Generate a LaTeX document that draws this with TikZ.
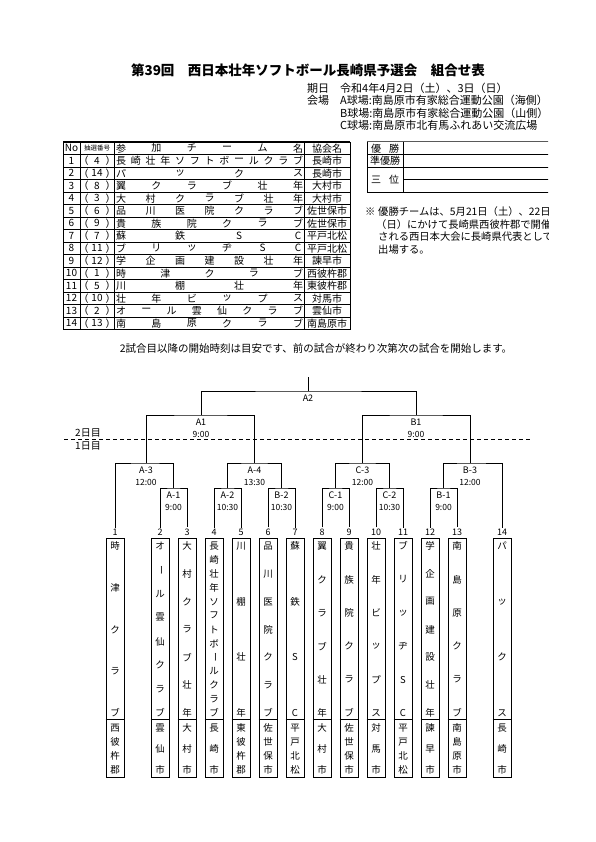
\documentclass[tikz,border=0pt]{standalone}
\usepackage{fontspec}
\setmainfont{Noto Sans CJK JP}
\usepackage{graphicx}
\usetikzlibrary{calc}

% long vowel mark turned for the upright team boxes
\newcommand{\tate}{\rotatebox[origin=c]{-90}{ー}}
% spread a list of characters evenly from one point to another
\newcommand{\spreadtext}[4]{%
  \foreach \ch [count=\k] in #4 {\xdef\nchars{\k}}
  \foreach \ch [count=\k] in #4 {
    \node (#1-\k) at ($#2!{(\k-1)/(\nchars-1)}!#3$) {\ch};
  }
}

\tikzset{
  teambox/.style={draw, line width=0.9pt, minimum width=18pt, minimum height=239pt},
  bracket/.style={line width=0.6pt},
  teamno/.style={inner sep=1pt, font=\fontsize{9}{10}\selectfont},
  matchname/.style={font=\fontsize{9}{10}\selectfont},
  matchtime/.style={font=\fontsize{8.5}{10}\selectfont},
  grid/.style={line width=0.5pt},
  infotext/.style={anchor=west, font=\fontsize{11}{13}\selectfont},
  notetext/.style={anchor=west, font=\fontsize{10.3}{12}\selectfont},
}

\begin{document}
\begin{tikzpicture}[x=1pt, y=-1pt, every node/.style={inner sep=0pt, font=\fontsize{10}{12}\selectfont}]
    \useasboundingbox (0,0) rectangle (595,842);

    % title
    \node[font=\fontsize{13.5}{15}\selectfont\bfseries] (title) at (308,70) {第39回　西日本壮年ソフトボール長崎県予選会　組合せ表};

    % date and grounds (cut off at the right)
    \begin{scope}
    \clip (0,0) rectangle (548,842);
    \node[infotext] (kijitsu) at (307,88) {期日};
    \node[infotext] (date) at (340,88) {令和4年4月2日（土）、3日（日）};
    \node[infotext] (kaijo) at (307,100.5) {会場};
    \node[infotext] (groundA) at (340,100.5) {A球場:南島原市有家総合運動公園（海側）};
    \node[infotext] (groundB) at (340,113) {B球場:南島原市有家総合運動公園（山側）};
    \node[infotext] (groundC) at (340,125.5) {C球場:南島原市北有馬ふれあい交流広場};

    % winners box
    \draw[line width=1pt, gray!70!black] (367,142) -- (560,142);
    \draw[line width=0.8pt] (367,154.5) -- (560,154.5);
    \draw[line width=0.8pt] (367,167) -- (560,167);
    \draw[line width=0.8pt] (403,179.5) -- (560,179.5);
    \draw[line width=0.8pt] (367,192) -- (560,192);
    \draw[line width=0.8pt] (367,142) -- (367,192);
    \draw[line width=0.8pt] (403,142) -- (403,192);
    \node (yu1) at (376,148.25) {優};
    \node (yu2) at (394,148.25) {勝};
    \node (jun) at (385,160.75) {準優勝};
    \node (san1) at (376,179.5) {三};
    \node (san2) at (394,179.5) {位};

    % note
    \node[notetext] (kome) at (365,212) {※};
    \node[notetext] (note1) at (378,212) {優勝チームは、5月21日（土）、22日（日）};
    \node[notetext] (note2) at (376,224.5) {（日）にかけて長崎県西彼杵郡で開催};
    \node[notetext] (note3) at (378,237) {される西日本大会に長崎県代表として};
    \node[notetext] (note4) at (378,249.5) {出場する。};
    \end{scope}

    % entry table
    \draw[grid] (63,142) rectangle (350,329.5);
    \foreach \k in {1,...,14} {
        \draw[grid] (63,{142+12.5*\k}) -- (350,{142+12.5*\k});
    }
    \foreach \cx in {80,114,304} {
        \draw[grid] (\cx,142) -- (\cx,329.5);
    }
    \draw[line width=1.4pt] (63,142) -- (350,142);
    \draw[line width=1.4pt] (63,329.5) -- (350,329.5);
    \node (hno) at (71.5,148.25) {No};
    \node[font=\fontsize{6.5}{8}\selectfont] (hlot) at (97,148.25) {抽選番号};
    \spreadtext{hd}{(121,148.25)}{(298,148.25)}{{参,加,チ,ー,ム,名}}
    \node (has) at (327,148.25) {協会名};
    \foreach \tno/\tlot/\tnm/\tas [count=\r] in {
        1/4/{長,崎,壮,年,ソ,フ,ト,ボ,ー,ル,ク,ラ,ブ}/長崎市,
        2/14/{パ,ッ,ク,ス}/長崎市,
        3/8/{翼,ク,ラ,ブ,壮,年}/大村市,
        4/3/{大,村,ク,ラ,ブ,壮,年}/大村市,
        5/6/{品,川,医,院,ク,ラ,ブ}/佐世保市,
        6/9/{貴,族,院,ク,ラ,ブ}/佐世保市,
        7/7/{蘇,鉄,S,C}/平戸北松,
        8/11/{ブ,リ,ッ,ヂ,S,C}/平戸北松,
        9/12/{学,企,画,建,設,壮,年}/諫早市,
        10/1/{時,津,ク,ラ,ブ}/西彼杵郡,
        11/5/{川,棚,壮,年}/東彼杵郡,
        12/10/{壮,年,ビ,ッ,プ,ス}/対馬市,
        13/2/{オ,ー,ル,雲,仙,ク,ラ,ブ}/雲仙市,
        14/13/{南,島,原,ク,ラ,ブ}/南島原市} {
        \pgfmathsetmacro\yy{148.25+12.5*\r}
        \node (no\r) at (71.5,\yy) {\tno};
        \node (lp\r) at (83.5,\yy) {（};
        \node (lot\r) at (97,\yy) {\tlot};
        \node (rp\r) at (110.5,\yy) {）};
        \spreadtext{row\r}{(121,\yy)}{(298,\yy)}{\tnm}
        \node (as\r) at (327,\yy) {\tas};
    }

    \node[font=\fontsize{10.5}{12}\selectfont] (notice) at (316,349) {2試合目以降の開始時刻は目安です、前の試合が終わり次第次の試合を開始します。};

    % team boxes
    \foreach \i/\x/\nm/\as in {
        1/115/{時,津,ク,ラ,ブ}/{西,彼,杵,郡},
        2/160/{オ,\tate,ル,雲,仙,ク,ラ,ブ}/{雲,仙,市},
        3/187/{大,村,ク,ラ,ブ,壮,年}/{大,村,市},
        4/214/{長,崎,壮,年,ソ,フ,ト,ボ,\tate,ル,ク,ラ,ブ}/{長,崎,市},
        5/241/{川,棚,壮,年}/{東,彼,杵,郡},
        6/268/{品,川,医,院,ク,ラ,ブ}/{佐,世,保,市},
        7/295/{蘇,鉄,S,C}/{平,戸,北,松},
        8/322/{翼,ク,ラ,ブ,壮,年}/{大,村,市},
        9/349/{貴,族,院,ク,ラ,ブ}/{佐,世,保,市},
        10/376/{壮,年,ビ,ッ,プ,ス}/{対,馬,市},
        11/403/{ブ,リ,ッ,ヂ,S,C}/{平,戸,北,松},
        12/430/{学,企,画,建,設,壮,年}/{諫,早,市},
        13/457/{南,島,原,ク,ラ,ブ}/{南,島,原,市},
        14/502/{パ,ッ,ク,ス}/{長,崎,市}} {
        \node[teambox] (t\i) at (\x,657.5) {};
        \draw[line width=0.8pt] ($(t\i.north west)+(0,182)$) -- ($(t\i.north east)+(0,182)$);
        \node[teamno] (n\i) at (\x,532) {\i};
        \begin{scope}[every node/.style={inner sep=0pt, font=\fontsize{9.5}{11}\selectfont}]
        \spreadtext{nm\i}{(\x,546)}{(\x,713)}{\nm}
        \spreadtext{ka\i}{(\x,728)}{(\x,770)}{\as}
        \end{scope}
    }

    % match points
    \coordinate (a-1) at (173.5,488);
    \coordinate (a-2) at (227.5,488);
    \coordinate (b-2) at (281.5,488);
    \coordinate (c-1) at (335.5,488);
    \coordinate (c-2) at (389.5,488);
    \coordinate (b-1) at (443.5,488);
    \coordinate (a-3) at (146,463);
    \coordinate (a-4) at (254.5,463);
    \coordinate (c-3) at (362.5,463);
    \coordinate (b-3) at (470,463);
    \coordinate (A1) at (201,415);
    \coordinate (B1) at (416,415);
    \coordinate (A2) at (308,391);
    \coordinate (final) at (308,377);

    % day 1
    \draw[bracket] (n2.north) |- (a-1) -| (n3.north);
    \draw[bracket] (n4.north) |- (a-2) -| (n5.north);
    \draw[bracket] (n6.north) |- (b-2) -| (n7.north);
    \draw[bracket] (n8.north) |- (c-1) -| (n9.north);
    \draw[bracket] (n10.north) |- (c-2) -| (n11.north);
    \draw[bracket] (n12.north) |- (b-1) -| (n13.north);
    \draw[bracket] (n1.north) |- (a-3) -| (a-1);
    \draw[bracket] (a-2) |- (a-4) -| (b-2);
    \draw[bracket] (c-1) |- (c-3) -| (c-2);
    \draw[bracket] (b-1) |- (b-3) -| (n14.north);
    % day 2
    \draw[bracket] (a-3) |- (A1) -| (a-4);
    \draw[bracket] (c-3) |- (B1) -| (b-3);
    \draw[bracket] (A1) |- (A2) -| (B1);
    \draw[bracket] (A2) -- (final);

    % match labels
    \foreach \m/\lab/\tm in {a-1/A-1/9:00, a-2/A-2/10:30, b-2/B-2/10:30, c-1/C-1/9:00, c-2/C-2/10:30, b-1/B-1/9:00,
                             a-3/A-3/12:00, a-4/A-4/13:30, c-3/C-3/12:00, b-3/B-3/12:00, A1/A1/9:00, B1/B1/9:00} {
        \node[matchname] (\m-name) at ($(\m)+(0,7)$) {\lab};
        \node[matchtime] (\m-time) at ($(\m)+(0,19.5)$) {\tm};
    }
    \node[matchname] (A2-name) at ($(A2)+(0,7)$) {A2};

    % day line
    \coordinate (dayL) at (64,439);
    \coordinate (dayR) at (532,439);
    \draw[line width=0.7pt, dash pattern=on 4pt off 3pt] (dayL) -- (dayR);
    \node (day2) at (88,433) {2日目};
    \node (day1) at (88,445.5) {1日目};
\end{tikzpicture}
\end{document}
